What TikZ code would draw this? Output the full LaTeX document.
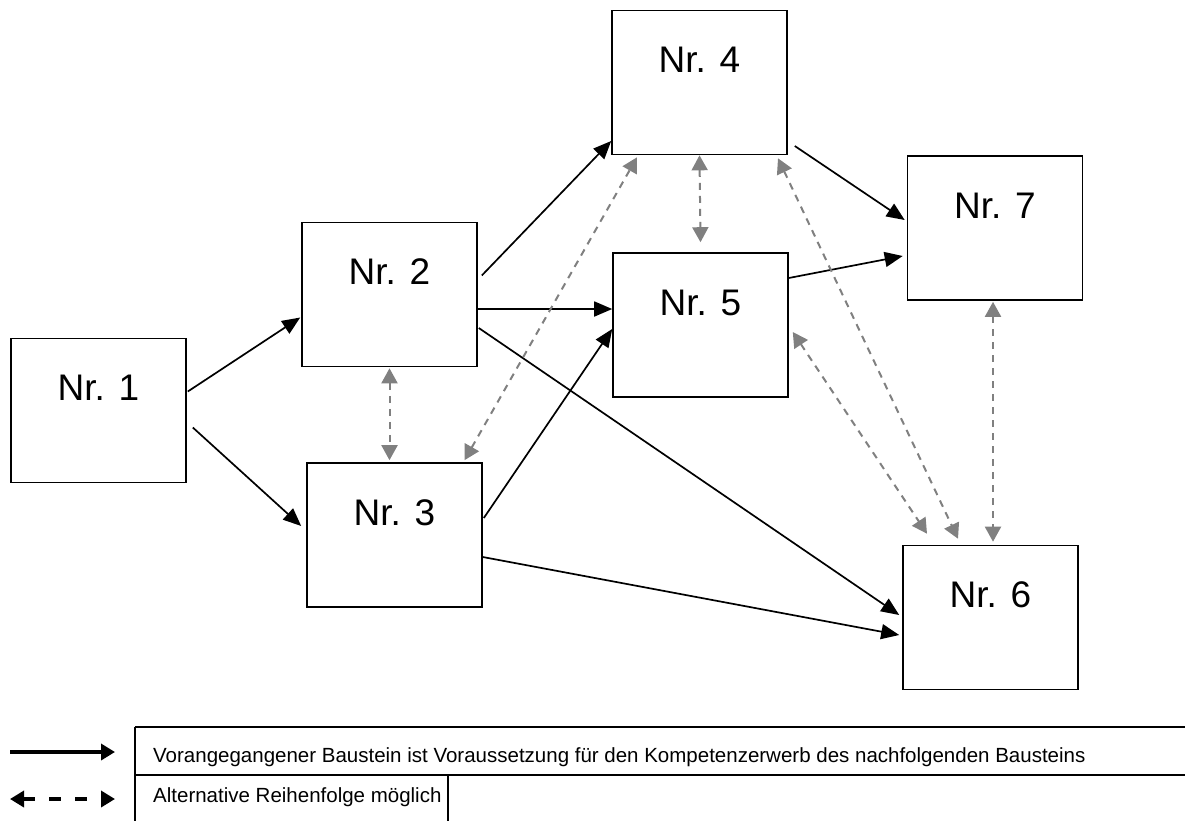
\documentclass[tikz,border=0pt]{standalone}
\usepackage{fontspec}
\setmainfont{Liberation Sans}
\usetikzlibrary{arrows.meta}
\begin{document}
\begin{tikzpicture}[x=1pt,y=-1pt,
  box/.style={draw, line width=1.6pt, minimum width=175pt, minimum height=144pt,
    inner sep=0pt, text height=27pt, text depth=47pt, font=\fontsize{37}{40}\selectfont},
  need/.style={line width=1.7pt, -{Triangle[length=18pt,width=15pt]}},
  alt/.style={gray, line width=2pt, dash pattern=on 7pt off 6pt,
    {Triangle[length=15pt,width=16pt]}-{Triangle[length=15pt,width=16pt]}},
  legtext/.style={anchor=west, inner sep=0pt, font=\fontsize{20.5}{24}\selectfont}]
\useasboundingbox (0,0) rectangle (1185,820);
\clip (0,0) rectangle (1185,820);
\node[box] (n1) at (98.5,410.5){Nr. 1};
\node[box] (n2) at (389.5,294.5){Nr. 2};
\node[box] (n3) at (394.5,535){Nr. 3};
\node[box] (n4) at (699.5,82.5){Nr. 4};
\node[box] (n5) at (700.5,325){Nr. 5};
\node[box] (n7) at (995,228){Nr. 7};
\node[box] (n6) at (990.5,617.5){Nr. 6};
% Voraussetzungen
\draw[need] ([xshift=1pt,yshift=19pt]n1.east) -- ([xshift=-1pt,yshift=-23pt]n2.west);
\draw[need] ([xshift=6pt,yshift=-17pt]n1.east) -- ([xshift=-5pt,yshift=9pt]n3.west);
\draw[need] ([xshift=4pt,yshift=19pt]n2.east) -- ([yshift=-58.5pt]n4.west);
\draw[need] ([yshift=-14.5pt]n2.east) -- ([yshift=16pt]n5.west);
\draw[need] ([xshift=1pt,yshift=-33.5pt]n2.east) -- ([xshift=-3pt,yshift=2.5pt]n6.west);
\draw[need] ([xshift=1pt,yshift=17pt]n3.east) -- ([yshift=-4pt]n5.west);
\draw[need] ([yshift=-22pt]n3.east) -- ([xshift=-3pt,yshift=-17.5pt]n6.west);
\draw[need] ([xshift=7pt,yshift=-63.5pt]n4.east) -- ([xshift=-2pt,yshift=8pt]n7.west);
\draw[need] ([yshift=47pt]n5.east) -- ([xshift=-4pt,yshift=-28pt]n7.west);
% alternative Reihenfolge
\draw[alt] ([yshift=-1pt]n2.south) -- ([xshift=-5pt,yshift=2pt]n3.north);
\draw[alt] ([xshift=70pt,yshift=2pt]n3.north) -- ([xshift=-62.5pt,yshift=-2pt]n4.south);
\draw[alt] (n4.south) -- ([yshift=10pt]n5.north);
\draw[alt] ([xshift=78.5pt,yshift=-3pt]n4.south) -- ([xshift=-32.5pt,yshift=6pt]n6.north);
\draw[alt] ([xshift=4pt,yshift=-7pt]n5.east) -- ([xshift=-63.5pt,yshift=11pt]n6.north);
\draw[alt] ([xshift=-2pt,yshift=-1pt]n7.south) -- ([xshift=2.5pt,yshift=3pt]n6.north);
% Legende
\draw[line width=2pt] (135,727) -- (1190,727);
\draw[line width=2pt] (135,775) -- (1190,775);
\draw[line width=2pt] (135,727) -- (135,830);
\draw[line width=2pt] (448,775) -- (448,830);
\node[legtext] (leg1) at (153,757.5){Vorangegangener Baustein ist Voraussetzung f\"ur den Kompetenzerwerb des nachfolgenden Bausteins};
\node[legtext] (leg2) at (153,797.5){Alternative Reihenfolge m\"oglich};
\coordinate (s1) at (10,752);
\coordinate (s2) at (115,752);
\coordinate (d1) at (10,799);
\coordinate (d2) at (115,799);
\draw[line width=3.6pt, -{Triangle[length=14pt,width=16pt]}] (s1) -- (s2);
\draw[line width=3.6pt, dash pattern=on 12pt off 14pt,
  {Triangle[length=14pt,width=16pt]}-{Triangle[length=14pt,width=16pt]}] (d1) -- (d2);
\end{tikzpicture}
\end{document}
